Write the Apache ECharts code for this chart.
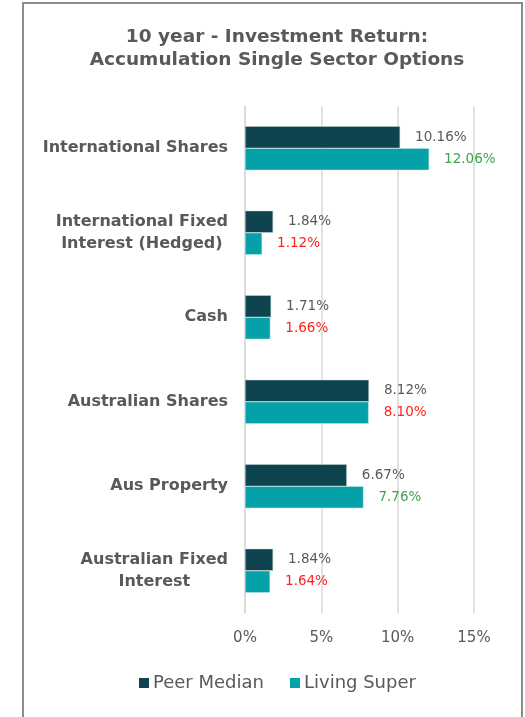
<!DOCTYPE html>
<html>
<head>
<meta charset="utf-8">
<script src="https://cdn.jsdelivr.net/npm/echarts@6/dist/echarts.min.js"></script>
<style>
  html, body { margin: 0; padding: 0; background: #fff; }
  #wrap { position: relative; width: 525px; height: 717px; overflow: hidden; }
  #frame { position: absolute; left: 22px; top: 2px; width: 501px; height: 760px; border: 2px solid #8c8c8c; box-sizing: border-box; }
  #chart { position: absolute; left: 0; top: 0; width: 525px; height: 717px; }
</style>
</head>
<body>
<div id="wrap">
  <div id="frame"></div>
  <div id="chart"></div>
</div>
<script>
// sectors, top to bottom
const categories = [
  'International Shares',
  'International Fixed\nInterest (Hedged)',
  'Cash',
  'Australian Shares',
  'Aus Property',
  'Australian Fixed\nInterest'
]
const peerMedian = [10.16, 1.84, 1.71, 8.12, 6.67, 1.84]
const livingSuper = [12.06, 1.12, 1.66, 8.10, 7.76, 1.64]
const xTicks = [0, 5, 10, 15]

const font = 'DejaVu Sans'
const textGrey = '#595959'
const darkTeal = '#0d4450'
const teal = '#05a1a8'

const chart = echarts.init(document.getElementById('chart'))

chart.setOption({
  animation: false,
  textStyle: { fontFamily: font },
  title: {
    text: '10 year - Investment Return:\nAccumulation Single Sector Options',
    left: 272,
    textAlign: 'center',
    top: 21,
    textStyle: { fontSize: 18.5, fontWeight: 'bold', color: textGrey, lineHeight: 23, fontFamily: font }
  },
  legend: {
    bottom: 20,
    left: 134,
    icon: 'rect',
    itemWidth: 10,
    itemHeight: 10,
    itemGap: 26,
    itemStyle: { borderWidth: 0 },
    textStyle: { fontSize: 18, color: textGrey, padding: [0, 0, 0, -1], fontFamily: font },
    data: ['Peer Median', 'Living Super']
  },
  grid: { left: 245, right: 51, top: 106, bottom: 104 },
  xAxis: {
    type: 'value',
    min: xTicks[0],
    max: xTicks[xTicks.length - 1],
    interval: 5,
    axisLine: { show: false },
    axisTick: { show: false },
    splitLine: { lineStyle: { color: '#d9d9d9', width: 1.5 } },
    axisLabel: { formatter: '{value}%', fontSize: 15, color: textGrey, margin: 18, fontFamily: font }
  },
  yAxis: {
    type: 'category',
    inverse: true,
    data: categories,
    axisLine: { show: true, lineStyle: { color: '#d9d9d9', width: 1.5 } },
    axisTick: { show: false },
    axisLabel: {
      margin: 17,
      formatter: v => v.split('\n').map(s => '{c|' + s + '}').join('\n'),
      rich: {
        c: { align: 'center', fontSize: 16, fontWeight: 'bold', color: textGrey, lineHeight: 22, fontFamily: font }
      }
    }
  },
  series: [
    {
      name: 'Peer Median',
      type: 'bar',
      barWidth: 22,
      barGap: '0%',
      data: peerMedian,
      itemStyle: { color: darkTeal, borderColor: '#c9d3d5', borderWidth: 0.5 },
      label: {
        show: true,
        position: 'right',
        distance: 15,
        fontSize: 13.5,
        color: textGrey,
        fontFamily: font,
        formatter: p => p.value.toFixed(2) + '%'
      }
    },
    {
      name: 'Living Super',
      type: 'bar',
      barWidth: 22,
      barGap: '0%',
      data: livingSuper.map((v, i) => ({
        value: v,
        label: { color: v > peerMedian[i] ? '#3aa64a' : '#ff1f1f' }
      })),
      itemStyle: { color: teal, borderColor: '#c9e9eb', borderWidth: 0.5 },
      label: {
        show: true,
        position: 'right',
        distance: 15,
        fontSize: 13.5,
        fontFamily: font,
        formatter: p => p.value.toFixed(2) + '%'
      }
    }
  ]
})
</script>
</body>
</html>
